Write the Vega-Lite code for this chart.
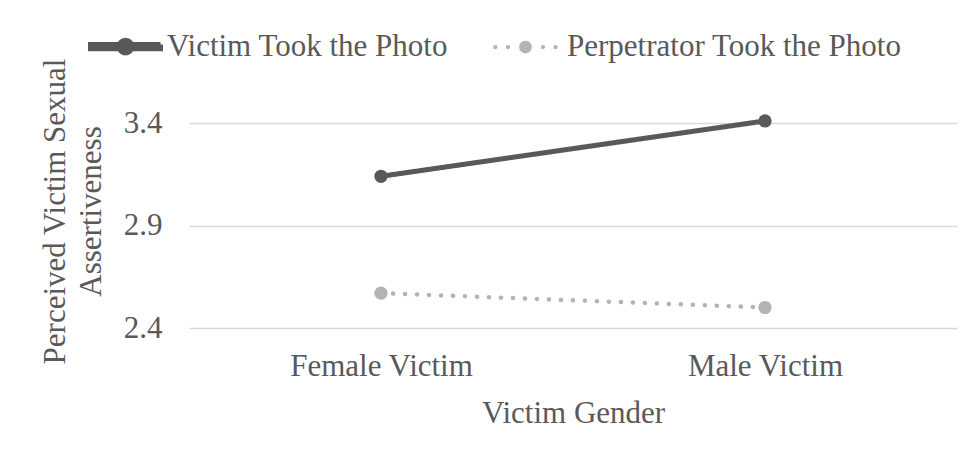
{
  "$schema": "https://vega.github.io/schema/vega-lite/v6.json",
  "width": 768,
  "height": 246,
  "autosize": {"type": "none"},
  "padding": {"left": 189, "top": 82, "right": 19, "bottom": 131},
  "background": "white",
  "config": {
    "view": {"stroke": null},
    "font": "Liberation Serif",
    "axis": {"labelFont": "Liberation Serif", "titleFont": "Liberation Serif", "labelColor": "#595959", "titleColor": "#595959", "titleFontWeight": "normal", "labelFontSize": 31, "titleFontSize": 31, "labelLimit": 400, "titleLimit": 600}
  },
  "data": {
    "values": [
      {"series": "Victim Took the Photo", "gender": "Female Victim", "value": 3.14},
      {"series": "Victim Took the Photo", "gender": "Male Victim", "value": 3.41},
      {"series": "Perpetrator Took the Photo", "gender": "Female Victim", "value": 2.57},
      {"series": "Perpetrator Took the Photo", "gender": "Male Victim", "value": 2.5}
    ]
  },
  "encoding": {
    "x": {
      "field": "gender", "type": "nominal",
      "scale": {"type": "point", "padding": 0.5},
      "sort": ["Female Victim", "Male Victim"],
      "axis": {"title": "Victim Gender", "labelAngle": 0, "ticks": false, "domain": false, "grid": false, "labelPadding": 23, "titleY": 94, "titleBaseline": "alphabetic"}
    },
    "y": {
      "field": "value", "type": "quantitative",
      "scale": {"domain": [2.4, 3.6], "zero": false, "nice": false},
      "axis": {"title": ["Perceived Victim Sexual", "Assertiveness"], "values": [2.4, 2.9, 3.4], "format": ".1f", "ticks": false, "domain": false, "grid": true, "gridColor": "#d9d9d9", "gridWidth": 1.5, "labelPadding": 27, "titleX": -118, "titleY": 129, "titleAngle": -90, "titleAlign": "center", "titleBaseline": "bottom", "titleLineHeight": 36}
    },
    "color": {
      "field": "series", "type": "nominal",
      "scale": {"domain": ["Victim Took the Photo", "Perpetrator Took the Photo"], "range": ["#595959", "#b3b3b3"]},
      "legend": {
        "title": null, "orient": "none", "direction": "horizontal",
        "legendX": -101, "legendY": -73, "padding": 0,
        "symbolSize": 4900, "labelOffset": 4, "columnPadding": 36,
        "labelFont": "Liberation Serif", "labelFontSize": 31, "labelColor": "#595959", "labelLimit": 500,
        "encode": {
          "symbols": {
            "update": {
              "shape": {"signal": "datum.value === 'Victim Took the Photo' ? 'M-1,-0.06L1,-0.06L1,0.06L-1,0.06Z M-0.18,0A0.18,0.18 0 1,1 0.18,0A0.18,0.18 0 1,1 -0.18,0Z' : 'M-0.92,0A0.06,0.06 0 1,1 -0.8,0A0.06,0.06 0 1,1 -0.92,0Z M-0.56,0A0.06,0.06 0 1,1 -0.44,0A0.06,0.06 0 1,1 -0.56,0Z M-0.18,0A0.18,0.18 0 1,1 0.18,0A0.18,0.18 0 1,1 -0.18,0Z M0.44,0A0.06,0.06 0 1,1 0.56,0A0.06,0.06 0 1,1 0.44,0Z M0.8,0A0.06,0.06 0 1,1 0.92,0A0.06,0.06 0 1,1 0.8,0Z'"},
              "fill": {"signal": "datum.value === 'Victim Took the Photo' ? '#595959' : '#b3b3b3'"},
              "stroke": {"value": "transparent"},
              "strokeWidth": {"value": 0},
              "opacity": {"value": 1},
              "fillOpacity": {"value": 1}
            }
          }
        }
      }
    }
  },
  "layer": [
    {
      "mark": {"type": "line", "strokeCap": "round"},
      "encoding": {
        "strokeDash": {
          "field": "series", "type": "nominal",
          "scale": {"domain": ["Victim Took the Photo", "Perpetrator Took the Photo"], "range": [[1, 0], [0.1, 11.9]]},
          "legend": null
        },
        "strokeWidth": {
          "field": "series", "type": "nominal",
          "scale": {"domain": ["Victim Took the Photo", "Perpetrator Took the Photo"], "range": [5, 4.5]},
          "legend": null
        }
      }
    },
    {
      "mark": {"type": "point", "filled": true, "size": 175, "opacity": 1, "shape": "circle"},
      "encoding": {}
    }
  ]
}
